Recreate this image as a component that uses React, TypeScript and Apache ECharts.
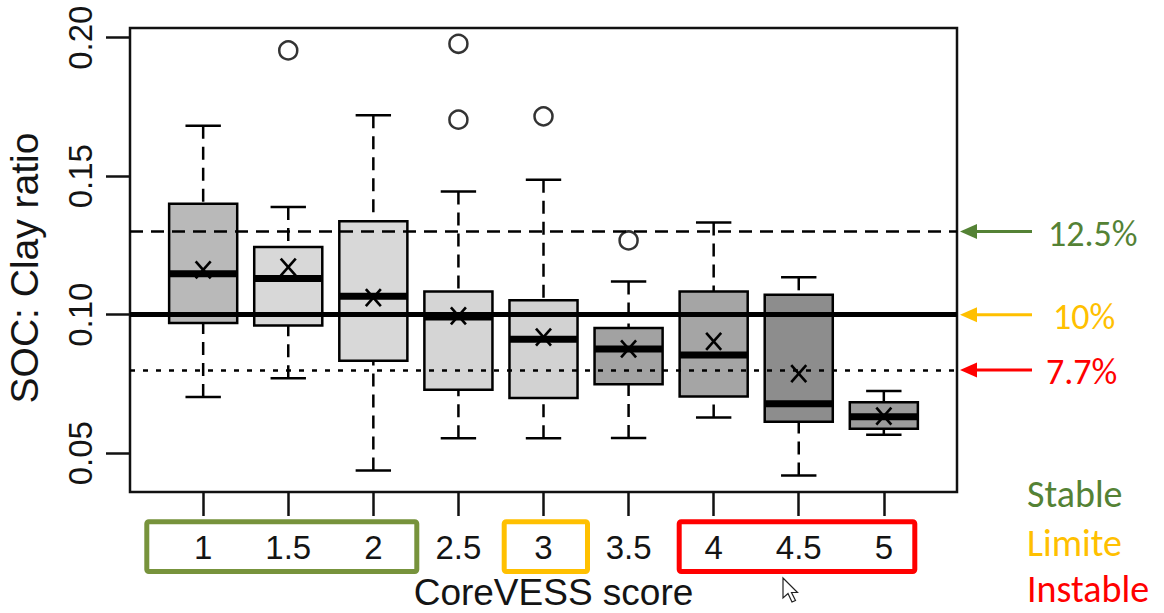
import React, { useEffect, useRef } from "react";
import * as echarts from "echarts";

// ---- data ----
const scores = [1, 1.5, 2, 2.5, 3, 3.5, 4, 4.5, 5];
const whiskerLow = [0.0703, 0.0771, 0.0438, 0.0554, 0.0554, 0.0555, 0.0629, 0.042, 0.0567];
const quart1 = [0.097, 0.0961, 0.0834, 0.0729, 0.0699, 0.0749, 0.0705, 0.0614, 0.0588];
const medians = [0.1148, 0.1131, 0.1067, 0.0992, 0.0911, 0.0876, 0.0855, 0.0679, 0.0632];
const quart3 = [0.1401, 0.1244, 0.1337, 0.1084, 0.1052, 0.0952, 0.1084, 0.1072, 0.0684];
const whiskerHigh = [0.1682, 0.1389, 0.172, 0.1445, 0.1487, 0.112, 0.1333, 0.1135, 0.0725];
const means = [0.1162, 0.1172, 0.1062, 0.0996, 0.0919, 0.0877, 0.0904, 0.0787, 0.0634];

const outlierScores = [1.5, 2.5, 2.5, 3, 3.5];
const outlierValues = [0.1954, 0.1978, 0.1704, 0.1716, 0.1268];

const yTicks = [0.05, 0.1, 0.15, 0.2];
const thresholds = [0.13, 0.1, 0.08];
const thresholdLabels = ["12.5%", "10%", "7.7%"];
const classLabels = ["Stable", "Limite", "Instable"];

// ---- styles ----
const boxFills = ["#b9b9b9", "#d8d8d8", "#d8d8d8", "#d5d5d5", "#d2d2d2", "#a2a2a2", "#a5a5a5", "#8d8d8d", "#9c9c9c"];
const noteColors = ["#548235", "#FFC000", "#FF0000"];
const groupBoxColors = ["#77933C", "#FFC000", "#FF0000"];
const axisFont = '"Liberation Sans", Arial, Helvetica, sans-serif';
const noteFont = 'Carlito, Lato, "Open Sans", sans-serif';
const ink = "#141414";

export default function App() {
  const ref = useRef<HTMLDivElement>(null);

  useEffect(() => {
    if (!ref.current) return;
    const chart = echarts.init(ref.current, null, { renderer: "svg" });

    const boxData = scores.map((s, i) => [
      s,
      whiskerLow[i],
      quart1[i],
      medians[i],
      quart3[i],
      whiskerHigh[i],
      means[i],
    ]);

    const boxWidth = 0.4; // in score units (0.8 of the spacing)

    const renderItem = (params: any, api: any) => {
      const x = api.value(0);
      const lo = api.coord([x, api.value(1)]);
      const q1 = api.coord([x, api.value(2)]);
      const md = api.coord([x, api.value(3)]);
      const q3 = api.coord([x, api.value(4)]);
      const hi = api.coord([x, api.value(5)]);
      const mn = api.coord([x, api.value(6)]);
      const w = api.size([boxWidth, 0])[0];
      const half = w / 2;
      const cap = half * 0.52;
      const cx = md[0];
      const dash = { stroke: "#000", lineWidth: 2.5, lineDash: [13, 8] };
      const solid = { stroke: "#000", lineWidth: 2.5 };
      return {
        type: "group",
        children: [
          { type: "line", shape: { x1: cx, y1: hi[1], x2: cx, y2: q3[1] }, style: dash },
          { type: "line", shape: { x1: cx, y1: lo[1], x2: cx, y2: q1[1] }, style: dash },
          { type: "line", shape: { x1: cx - cap, y1: hi[1], x2: cx + cap, y2: hi[1] }, style: solid },
          { type: "line", shape: { x1: cx - cap, y1: lo[1], x2: cx + cap, y2: lo[1] }, style: solid },
          {
            type: "rect",
            shape: { x: cx - half, y: q3[1], width: w, height: q1[1] - q3[1] },
            style: { fill: boxFills[params.dataIndex], stroke: "#000", lineWidth: 2.5 },
          },
          { type: "line", shape: { x1: cx - half, y1: md[1], x2: cx + half, y2: md[1] }, style: { stroke: "#000", lineWidth: 7 } },
          { type: "line", shape: { x1: cx - 7.5, y1: mn[1] - 8.5, x2: cx + 7.5, y2: mn[1] + 8.5 }, style: { stroke: "#000", lineWidth: 2.6 } },
          { type: "line", shape: { x1: cx + 7.5, y1: mn[1] - 8.5, x2: cx - 7.5, y2: mn[1] + 8.5 }, style: { stroke: "#000", lineWidth: 2.6 } },
        ],
      };
    };

    chart.setOption({
      animation: false,
      backgroundColor: "#ffffff",
      grid: {
        left: 130,
        top: 28,
        right: 207,
        bottom: 121,
        containLabel: false,
        outerBoundsMode: "none",
        show: true,
        borderColor: "#111",
        borderWidth: 2.5,
        backgroundColor: "transparent",
      },
      xAxis: {
        type: "value",
        min: 0.57,
        max: 5.43,
        name: "CoreVESS score",
        nameLocation: "middle",
        nameGap: 82,
        nameTextStyle: { fontSize: 37, fontFamily: axisFont, color: ink, padding: [0, 0, 0, 20] },
        axisLine: { show: false },
        splitLine: { show: false },
        axisTick: { show: true, length: 24, customValues: scores, lineStyle: { color: "#111", width: 2.5 } },
        axisLabel: { customValues: scores, fontSize: 33, margin: 39, color: ink, fontFamily: axisFont },
      },
      yAxis: {
        type: "value",
        min: 0.036,
        max: 0.2035,
        name: "SOC: Clay ratio",
        nameLocation: "middle",
        nameGap: 86,
        nameTextStyle: { fontSize: 39, fontFamily: axisFont, color: ink, padding: [0, 16, 0, 0] },
        axisLine: { show: false },
        splitLine: { show: false },
        axisTick: { show: true, length: 24, customValues: yTicks, lineStyle: { color: "#111", width: 2.5 } },
        axisLabel: {
          customValues: yTicks,
          rotate: 90,
          fontSize: 33,
          margin: 33,
          color: ink,
          fontFamily: axisFont,
          formatter: (v: number) => v.toFixed(2),
        },
      },
      series: [
        {
          type: "custom",
          z: 2,
          renderItem,
          data: boxData,
        },
        {
          type: "scatter",
          z: 3,
          symbol: "circle",
          symbolSize: 18,
          itemStyle: { color: "rgba(255,255,255,0)", borderColor: "#000", borderWidth: 2.5 },
          data: outlierScores.map((s, i) => [s, outlierValues[i]]),
          markLine: {
            silent: true,
            symbol: ["none", "none"],
            label: { show: false },
            data: [
              { yAxis: thresholds[0], lineStyle: { color: "#000", width: 2.5, type: [13, 8] } },
              { yAxis: thresholds[1], lineStyle: { color: "#000", width: 5, type: "solid" } },
              { yAxis: thresholds[2], lineStyle: { color: "#000", width: 2.5, type: [5, 8] } },
            ],
          },
        },
      ],
    });

    // annotations: arrows + labels at the threshold heights, group frames, class legend
    const graphics: any[] = [];
    const labelX = [1048, 1053, 1046];
    thresholds.forEach((t, i) => {
      const y = chart.convertToPixel({ yAxisIndex: 0 }, t) as number;
      const c = noteColors[i];
      graphics.push({ type: "line", shape: { x1: 972, y1: y, x2: 1032, y2: y }, style: { stroke: c, lineWidth: 3 } });
      graphics.push({
        type: "polygon",
        shape: { points: [[960, y], [977, y - 7.5], [977, y + 7.5]] },
        style: { fill: c },
      });
      graphics.push({
        type: "text",
        x: labelX[i],
        y: y + 2,
        style: { text: thresholdLabels[i], fill: c, fontSize: 36, fontFamily: noteFont, align: "left", verticalAlign: "middle" },
      });
    });

    const frames = [
      { x: 146.8, w: 270 },
      { x: 504.2, w: 83.3 },
      { x: 679.2, w: 235.6 },
    ];
    frames.forEach((f, i) => {
      graphics.push({
        type: "rect",
        shape: { x: f.x, y: 521.8, width: f.w, height: 49.7, r: 2 },
        style: { fill: "none", stroke: groupBoxColors[i], lineWidth: 5 },
      });
    });

    const classY = [494, 543, 589];
    classLabels.forEach((t, i) => {
      graphics.push({
        type: "text",
        x: 1027,
        y: classY[i],
        style: { text: t, fill: noteColors[i], fontSize: 38, fontFamily: noteFont, align: "left", verticalAlign: "middle" },
      });
    });

    // mouse cursor seen in the screenshot
    graphics.push({
      type: "polygon",
      x: 783,
      y: 578,
      shape: { points: [[0, 0], [0, 20], [5, 15.5], [9, 24], [12.5, 22.5], [8.5, 14.5], [14.5, 14.5]] },
      style: { fill: "#fff", stroke: "#222", lineWidth: 1.2 },
    });

    chart.setOption({ graphic: { elements: graphics } });

    return () => chart.dispose();
  }, []);

  return (
    <div
      ref={ref}
      style={{ position: "absolute", left: 0, top: 0, width: 1164, height: 613, background: "#fff" }}
    />
  );
}
